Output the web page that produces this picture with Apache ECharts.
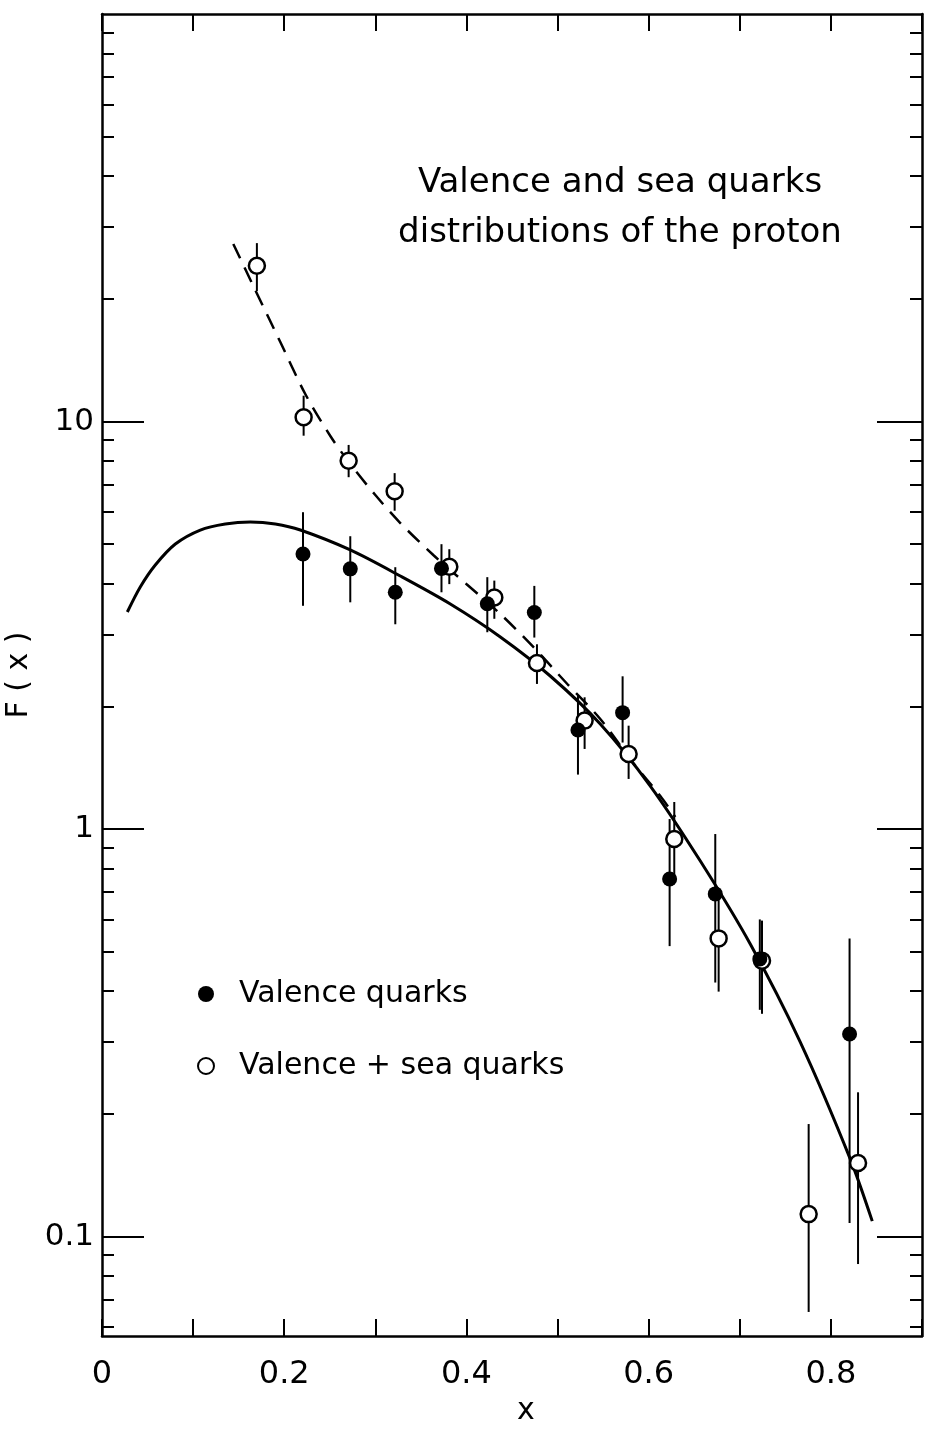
<!DOCTYPE html>
<html>
<head>
<meta charset="utf-8">
<script src="https://cdn.jsdelivr.net/npm/echarts@6/dist/echarts.min.js"></script>
<style>
  html, body { margin: 0; padding: 0; background: #fff; }
  #chart { width: 928px; height: 1429px; }
</style>
</head>
<body>
<div id="chart"></div>
<script>
// ---- Data ----
// Valence quarks (filled circles)
const valX  = [0.2206, 0.2725, 0.3219, 0.3726, 0.4229, 0.4745, 0.5224, 0.5714, 0.623, 0.6731, 0.722, 0.8205];
const valY  = [4.73, 4.35, 3.81, 4.36, 3.57, 3.40, 1.75, 1.93, 0.754, 0.693, 0.48, 0.314];
const valLo = [3.53, 3.60, 3.18, 3.81, 3.04, 2.95, 1.36, 1.63, 0.516, 0.420, 0.36, 0.108];
const valHi = [5.99, 5.23, 4.39, 5.00, 4.15, 3.95, 2.12, 2.37, 1.058, 0.972, 0.60, 0.539];

// Valence + sea quarks (open circles)
const seaX  = [0.170, 0.2213, 0.2707, 0.3212, 0.3812, 0.4306, 0.4774, 0.5297, 0.578, 0.6281, 0.6768, 0.7244, 0.7756, 0.8298];
const seaY  = [24.1, 10.24, 8.01, 6.74, 4.40, 3.70, 2.555, 1.845, 1.528, 0.945, 0.539, 0.475, 0.1135, 0.1515];
const seaLo = [20.9, 9.23, 7.30, 6.04, 3.99, 3.28, 2.27, 1.572, 1.327, 0.76, 0.399, 0.352, 0.0653, 0.0856];
const seaHi = [27.4, 11.57, 8.76, 7.47, 4.86, 4.07, 2.84, 2.105, 1.793, 1.165, 0.673, 0.596, 0.1888, 0.2259];

// Solid curve (valence fit)
const fitX = [0.0278, 0.0420, 0.0585, 0.0805, 0.1079, 0.1353, 0.1628, 0.1902, 0.2177, 0.2725, 0.3274, 0.3823, 0.4372, 0.4920, 0.5469, 0.6018, 0.6567, 0.7115, 0.7664, 0.8213, 0.8454];
const fitY = [3.408, 3.926, 4.445, 5.005, 5.416, 5.604, 5.668, 5.604, 5.416, 4.839, 4.177, 3.566, 2.960, 2.374, 1.810, 1.275, 0.8345, 0.5222, 0.3000, 0.1549, 0.1091];

// Dashed curve (valence + sea fit)
const dashX = [0.1441, 0.1661, 0.1957, 0.2231, 0.2506, 0.2725, 0.3000, 0.3274, 0.3636, 0.3999, 0.4372, 0.4734, 0.5107, 0.5469, 0.5831, 0.6128, 0.6292];
const dashY = [27.27, 21.50, 15.67, 11.68, 9.215, 7.865, 6.600, 5.635, 4.704, 3.993, 3.370, 2.797, 2.269, 1.862, 1.452, 1.205, 1.070];

// Axis ticks / labels
const xMin = 0, xMax = 0.9, xStep = 0.1;
const xLabelValues = [0, 0.2, 0.4, 0.6, 0.8];
const yMin = 0.057, yMax = 100;
const yMajorTicks = [0.1, 1, 10];
const yMinorTicks = [0.06, 0.07, 0.08, 0.09, 0.2, 0.3, 0.4, 0.5, 0.6, 0.7, 0.8, 0.9,
                     2, 3, 4, 5, 6, 7, 8, 9, 20, 30, 40, 50, 60, 70, 80, 90];
const yLabels = ['0.1', '1', '10'];

const titleLines = ['Valence and sea quarks', 'distributions of the proton'];
const legendNames = ['Valence quarks', 'Valence + sea quarks'];

// ---- Chart ----
const FONT = 'DejaVu Sans';
const chart = echarts.init(document.getElementById('chart'), null, { renderer: 'canvas' });

function errData(xs, lo, hi) { return xs.map((x, i) => [x, lo[i], hi[i]]); }
function pts(xs, ys) { return xs.map((x, i) => [x, ys[i]]); }

function errRender(params, api) {
  const x = api.value(0);
  const p1 = api.coord([x, api.value(1)]);
  const p2 = api.coord([x, api.value(2)]);
  return {
    type: 'line',
    shape: { x1: p1[0], y1: p1[1], x2: p2[0], y2: p2[1] },
    style: { stroke: '#000', lineWidth: 2 }
  };
}

const frameLine = { show: true, onZero: false, lineStyle: { color: '#000', width: 2.5 } };

function yAxisDef(pos, ticks, len, withLabels, withLine) {
  return {
    type: 'log', logBase: 10, min: yMin, max: yMax, position: pos,
    axisLine: withLine ? frameLine : { show: false, onZero: false },
    axisTick: { show: true, inside: true, length: len, customValues: ticks,
                lineStyle: { color: '#000', width: 2 } },
    axisLabel: withLabels ? {
      show: true, customValues: yMajorTicks, margin: 8,
      fontFamily: FONT, fontSize: 31, color: '#000',
      formatter: v => yLabels[yMajorTicks.findIndex(t => Math.abs(Math.log10(t) - Math.log10(v)) < 0.01)] || ''
    } : { show: false },
    splitLine: { show: false },
    minorTick: { show: false }
  };
}

const option = {
  animation: false,
  backgroundColor: '#fff',
  grid: { left: 102, right: 6, top: 14, bottom: 93, containLabel: false, outerBoundsMode: 'none' },
  title: {
    text: titleLines.join('\n'),
    left: 615, top: 153, textAlign: 'center',
    textStyle: { fontFamily: FONT, fontSize: 34, fontWeight: 'normal', color: '#000', lineHeight: 50 }
  },
  legend: {
    orient: 'vertical', left: 192, top: 974,
    itemWidth: 16, itemHeight: 16, itemGap: 42,
    data: [
      { name: legendNames[0], icon: 'circle' },
      { name: legendNames[1], icon: 'circle' }
    ],
    textStyle: { fontFamily: FONT, fontSize: 30, color: '#000', padding: [0, 0, 0, 20] }
  },
  xAxis: [
    {
      type: 'value', min: xMin, max: xMax, interval: xStep, position: 'bottom',
      name: 'x', nameLocation: 'middle', nameGap: 52,
      nameTextStyle: { fontFamily: FONT, fontSize: 30, color: '#000', padding: [0, 0, 0, 28] },
      axisLine: frameLine,
      axisTick: { show: true, inside: true, length: 17, lineStyle: { color: '#000', width: 2 } },
      axisLabel: {
        show: true, margin: 23, fontFamily: FONT, fontSize: 32, color: '#000',
        formatter: v => {
          const k = xLabelValues.findIndex(t => Math.abs(t - v) < 1e-6);
          return k < 0 ? '' : (xLabelValues[k] === 0 ? '0' : xLabelValues[k].toFixed(1));
        }
      },
      splitLine: { show: false }
    },
    {
      type: 'value', min: xMin, max: xMax, interval: xStep, position: 'top',
      axisLine: frameLine,
      axisTick: { show: true, inside: true, length: 17, lineStyle: { color: '#000', width: 2 } },
      axisLabel: { show: false },
      splitLine: { show: false }
    }
  ],
  yAxis: [
    Object.assign(yAxisDef('left', yMinorTicks, 12, true, true), {
      name: 'F ( x )', nameLocation: 'middle', nameGap: 50, nameRotate: 90,
      nameTextStyle: { fontFamily: FONT, fontSize: 30, color: '#000' }
    }),
    yAxisDef('left', yMajorTicks, 42, false, false),
    yAxisDef('right', yMinorTicks, 12, false, true),
    yAxisDef('right', yMajorTicks, 45, false, false)
  ],
  series: [
    {
      name: 'fit-valence', type: 'line', smooth: 0.3, showSymbol: false, symbol: 'none',
      data: pts(fitX, fitY), lineStyle: { color: '#000', width: 3 }, z: 2, silent: true
    },
    {
      name: 'fit-sea', type: 'line', smooth: 0.3, showSymbol: false, symbol: 'none',
      data: pts(dashX, dashY), lineStyle: { color: '#000', width: 2.5, type: [16, 10] }, z: 2, silent: true
    },
    {
      name: 'err-sea', type: 'custom', renderItem: errRender,
      data: errData(seaX, seaLo, seaHi), encode: { x: 0, y: [1, 2] }, z: 3, silent: true
    },
    {
      name: 'err-val', type: 'custom', renderItem: errRender,
      data: errData(valX, valLo, valHi), encode: { x: 0, y: [1, 2] }, z: 3, silent: true
    },
    {
      name: legendNames[1], type: 'scatter', symbol: 'circle', symbolSize: 16,
      data: pts(seaX, seaY),
      itemStyle: { color: '#fff', borderColor: '#000', borderWidth: 2.5, opacity: 1 }, z: 4
    },
    {
      name: legendNames[0], type: 'scatter', symbol: 'circle', symbolSize: 15,
      data: pts(valX, valY),
      itemStyle: { color: '#000', opacity: 1 }, z: 5
    }
  ]
};
chart.setOption(option);
</script>
</body>
</html>
